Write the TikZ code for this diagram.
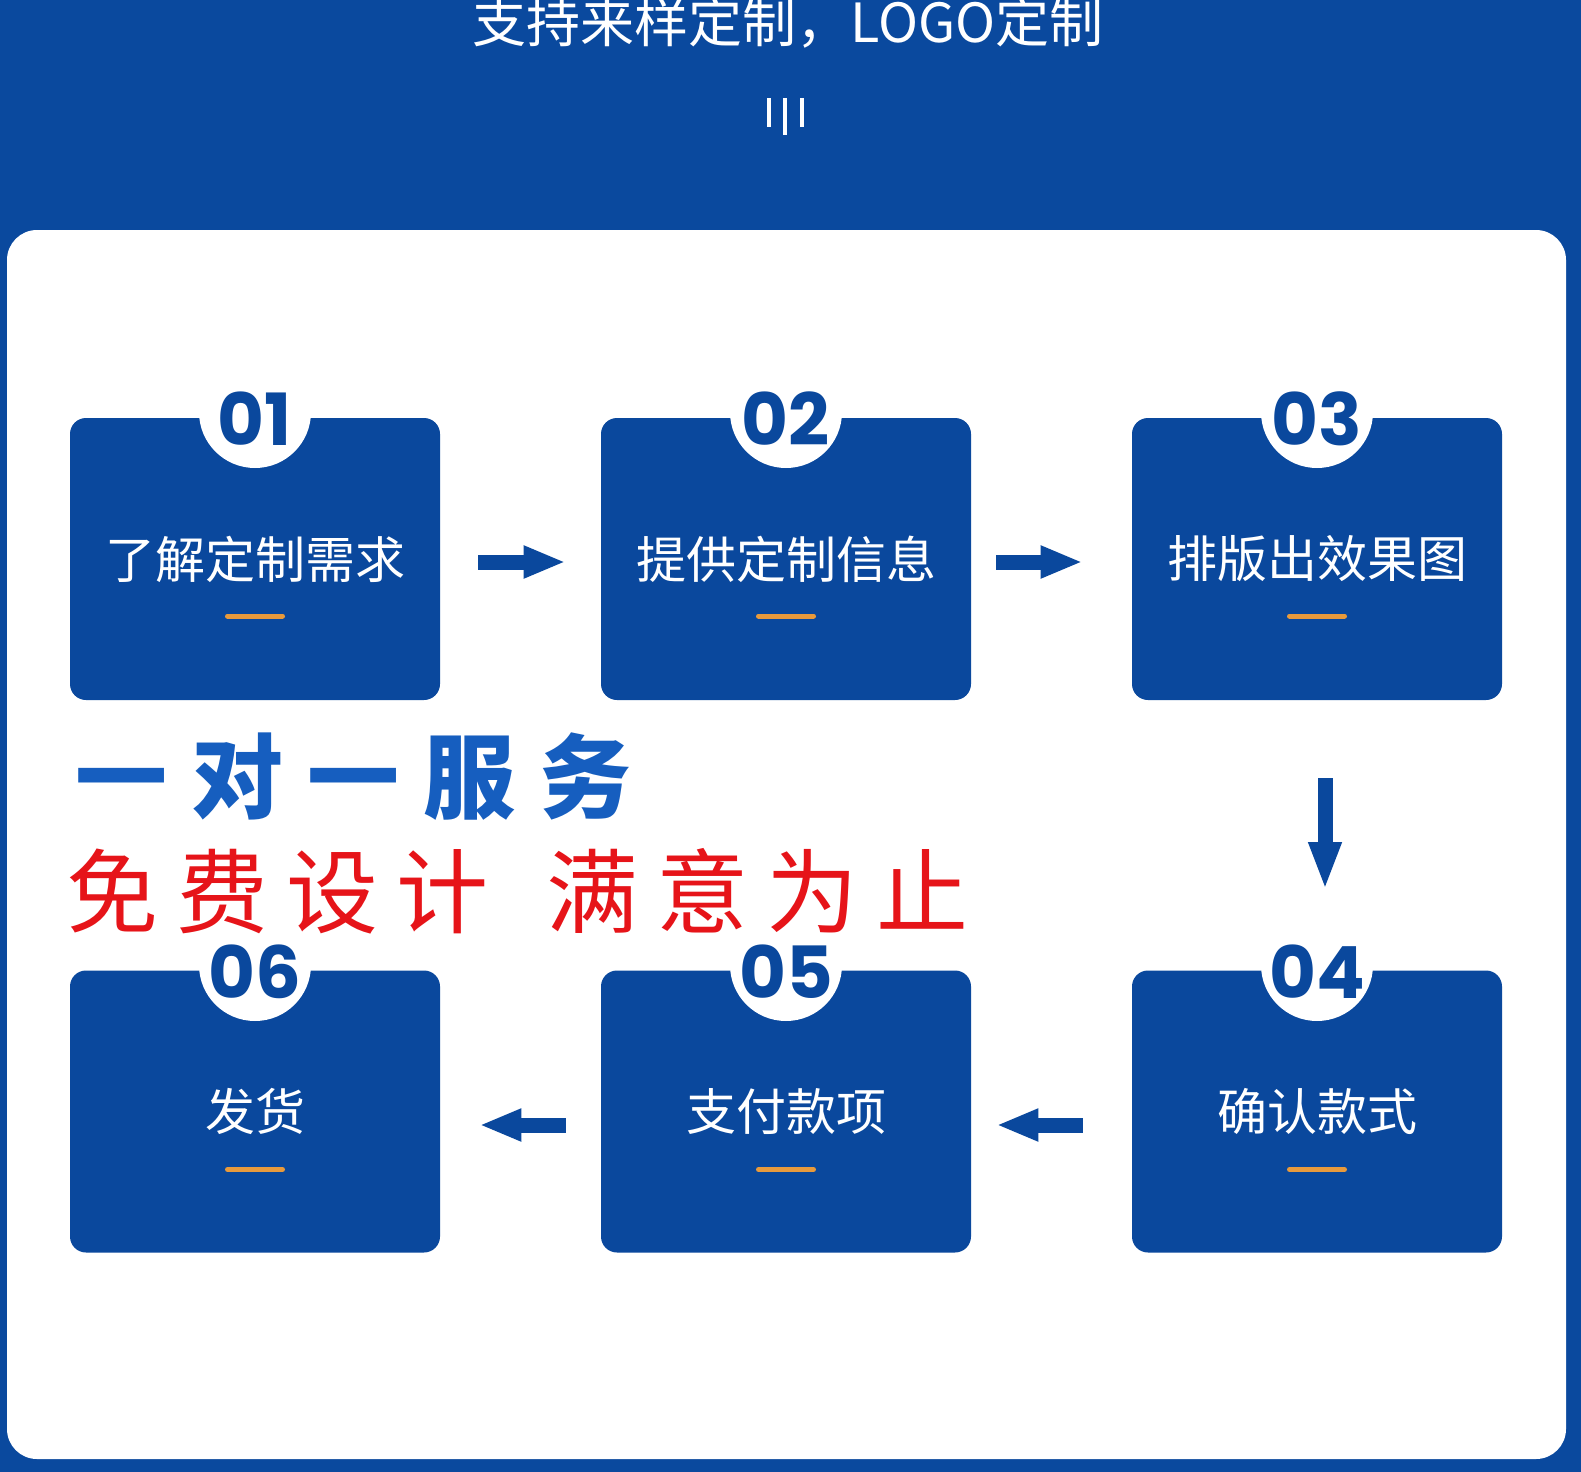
\documentclass[tikz,border=0pt]{standalone}
\usepackage{fontspec}
\setmainfont{Noto Sans CJK SC}
\newfontfamily\cjk{Noto Sans CJK SC}
\newfontfamily\numfont{Poppins}
\usetikzlibrary{arrows.meta}
\definecolor{bgblue}{RGB}{10,73,158}
\definecolor{boxblue}{RGB}{10,72,157}
\definecolor{txtblue}{RGB}{22,94,191}
\definecolor{barorange}{RGB}{232,154,60}
\definecolor{redtxt}{RGB}{230,20,25}
\tikzset{
  stepbox/.style={fill=boxblue, rounded corners=8pt, minimum width=185pt, minimum height=141pt,
    inner sep=0pt, text=white, font=\cjk\fontsize{25pt}{30pt}\selectfont},
  badge/.style={circle, fill=white, minimum size=56pt, inner sep=0pt},
  numtxt/.style={text=boxblue, inner sep=0pt, font=\numfont\bfseries\fontsize{36pt}{40pt}\selectfont},
  bar/.style={draw=barorange, line width=2.5pt, line cap=round},
  flowarrow/.style={draw=boxblue, line width=7.5pt, -{Triangle[length=21pt,width=15pt]}},
  downarrow/.style={draw=boxblue, line width=7.5pt, -{Triangle[length=24pt,width=15pt]}},
  tick/.style={draw=white, line width=2pt},
}
\begin{document}
\begin{tikzpicture}[x=0.5pt,y=-0.5pt]
\useasboundingbox (0,0) rectangle (1581,1472);
\fill[bgblue] (0,0) rectangle (1581,1472);
\fill[white, rounded corners=15pt] (7,230) rectangle (1566,1459);

% title
\node[text=white, inner sep=0pt, font=\cjk\fontsize{27pt}{32pt}\selectfont] (title) at (788,23) {支持来样定制，LOGO定制};
\draw[tick] (769,98) -- (769,127);
\draw[tick] (785,98) -- (785,135);
\draw[tick] (802,98) -- (802,127);

% boxes
\node[stepbox] (b1) at (255,559) {了解定制需求};
\node[stepbox] (b2) at (786,559) {提供定制信息};
\node[stepbox] (b3) at (1317,559) {排版出效果图};
\node[stepbox] (b4) at (1317,1111.5) {确认款式};
\node[stepbox] (b5) at (786,1111.5) {支付款项};
\node[stepbox] (b6) at (255,1111.5) {发货};

% orange bars
\foreach \b in {b1,b2,b3} {
  \draw[bar] ([xshift=-13.75pt,yshift=-28.5pt]\b.center) -- ([xshift=13.75pt,yshift=-28.5pt]\b.center);
}
\foreach \b in {b4,b5,b6} {
  \draw[bar] ([xshift=-13.75pt,yshift=-29pt]\b.center) -- ([xshift=13.75pt,yshift=-29pt]\b.center);
}

% badges
\node[badge] (c1) at (255,412) {};
\node[badge] (c2) at (786,412) {};
\node[badge] (c3) at (1317,412) {};
\node[badge] (c4) at (1317,965) {};
\node[badge] (c5) at (786,965) {};
\node[badge] (c6) at (255,965) {};
\node[numtxt] (n1) at (255,419) {01};
\node[numtxt] (n2) at (786,419) {02};
\node[numtxt] (n3) at (1317,419) {03};
\node[numtxt] (n4) at (1317,972) {04};
\node[numtxt] (n5) at (786,972) {05};
\node[numtxt] (n6) at (255,972) {06};

% arrows
\draw[flowarrow, shorten <=19pt, shorten >=17.5pt] ([yshift=-1.5pt]b1.east) -- ([yshift=-1.5pt]b2.west);
\draw[flowarrow, shorten <=12.5pt, shorten >=24.5pt] ([yshift=-1.5pt]b2.east) -- ([yshift=-1.5pt]b3.west);
\draw[downarrow, shorten <=39pt, shorten >=40pt] ([xshift=4pt]b3.south) -- ([xshift=4pt]b4.north);
\draw[flowarrow, shorten <=24.5pt, shorten >=12.5pt] ([yshift=-6.75pt]b4.west) -- ([yshift=-6.75pt]b5.east);
\draw[flowarrow, shorten <=17.5pt, shorten >=19.5pt] ([yshift=-6.75pt]b5.west) -- ([yshift=-6.75pt]b6.east);

% slogans
\node[anchor=west, inner sep=0pt, text=txtblue, font=\cjk\bfseries\fontsize{46pt}{52pt}\selectfont] (s1) at (75,777)
  {一\hspace{12pt}对\hspace{12pt}一\hspace{12pt}服\hspace{12pt}务};
\node[anchor=west, inner sep=0pt, text=redtxt, font=\cjk\fontsize{46pt}{52pt}\selectfont] (s2) at (66,891)
  {免\hspace{9pt}费\hspace{9pt}设\hspace{9pt}计\hspace{29pt}满\hspace{9pt}意\hspace{9pt}为\hspace{9pt}止};
\end{tikzpicture}
\end{document}
